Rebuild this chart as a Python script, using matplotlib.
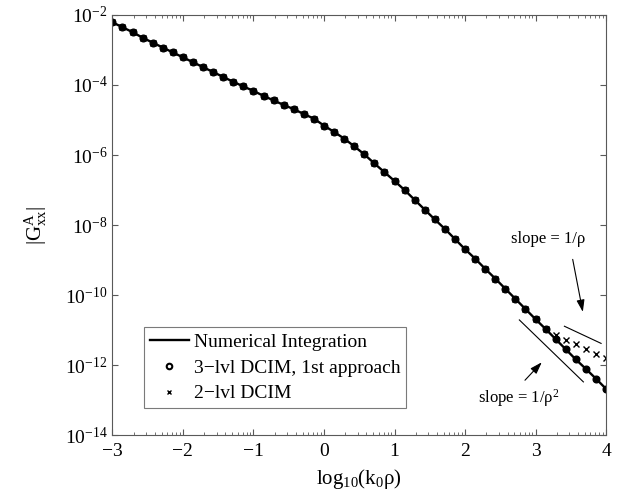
import numpy as np
import matplotlib
matplotlib.use('Agg')
import matplotlib.pyplot as plt
from matplotlib.lines import Line2D
from matplotlib.ticker import FixedLocator, NullLocator, FuncFormatter

plt.rcParams['font.family'] = ['Liberation Serif', 'DejaVu Serif']
plt.rcParams['mathtext.fontset'] = 'custom'
plt.rcParams['mathtext.rm'] = 'Liberation Serif'
plt.rcParams['mathtext.it'] = 'Liberation Serif:italic'
plt.rcParams['mathtext.bf'] = 'Liberation Serif:bold'

# log10(k0*rho) sample points
x = np.linspace(-3, 4, 50)

# log10 |Gxx^A| (numerical integration / 3-lvl DCIM)
gxx_log = [-2.21, -2.35, -2.49, -2.65, -2.79, -2.93, -3.07, -3.21, -3.35, -3.49,
           -3.63, -3.77, -3.91, -4.04, -4.17, -4.31, -4.44, -4.57, -4.69, -4.83,
           -4.96, -5.16, -5.34, -5.53, -5.75, -5.98, -6.24, -6.49, -6.74, -7.00,
           -7.28, -7.56, -7.84, -8.11, -8.40, -8.69, -8.96, -9.25, -9.53, -9.82,
           -10.11, -10.40, -10.69, -10.97, -11.26, -11.55, -11.84, -12.11, -12.39, -12.68]

# 2-lvl DCIM: same as above, then drifts off at large distance
dcim2_tail = [-11.13, -11.29, -11.41, -11.54, -11.67, -11.79]
dcim2_log = gxx_log[:44] + dcim2_tail

gxx = 10.0 ** np.array(gxx_log)
dcim2 = 10.0 ** np.array(dcim2_log)

labels = ['Numerical Integration', '3\u2212lvl DCIM, 1st approach', '2\u2212lvl DCIM']

fig = plt.figure(figsize=(6.21, 4.99), dpi=100)
ax = fig.add_axes([0.181, 0.128, 0.795, 0.842])

ax.plot(x, gxx, 'k-', lw=1.7)
ax.plot(x, gxx, 'o', color='k', ms=4.8, mfc='k', mew=1.0)
ax.plot(x, dcim2, 'x', color='k', ms=4, mew=1.0)

ax.set_yscale('log')
ax.set_xlim(-3, 4)
ax.set_ylim(1e-14, 1e-2)

# slope guide lines
ax.plot([2.770, 3.678], [10**-10.71, 10**-12.48], 'k-', lw=0.8)
ax.plot([3.409, 3.929], [10**-10.89, 10**-11.38], 'k-', lw=0.8)

arrow = '-|>,head_length=0.6,head_width=0.2'
ax.annotate('slope = 1/ρ$^2$', xy=(3.088, 10**-11.92), xytext=(2.759, 10**-12.94),
            ha='center', va='center', fontsize=12,
            arrowprops=dict(arrowstyle=arrow, color='k', lw=0.8, mutation_scale=12,
                            shrinkA=4, shrinkB=0, relpos=(0.5, 1.0)))
ax.annotate('slope = 1/ρ', xy=(3.67, 10**-10.48), xytext=(3.177, 10**-8.40),
            ha='center', va='center', fontsize=12,
            arrowprops=dict(arrowstyle=arrow, color='k', lw=0.8, mutation_scale=12,
                            shrinkA=7, shrinkB=0, relpos=(0.8, 0.0)))

# ticks
ax.xaxis.set_major_locator(FixedLocator(np.arange(-3, 5)))
minors = [i + np.log10(k) for i in range(-3, 4) for k in range(2, 10)]
ax.xaxis.set_minor_locator(FixedLocator(minors))
ax.yaxis.set_major_locator(FixedLocator([10.0**e for e in range(-14, -1, 2)]))
ax.yaxis.set_minor_locator(NullLocator())
ax.yaxis.set_major_formatter(FuncFormatter(lambda v, p: r'10$^{%d}$' % round(np.log10(v))))
ax.tick_params(which='both', direction='in', top=True, right=True, labelsize=14,
               color='0.35')
ax.tick_params(which='major', length=4)
ax.tick_params(which='minor', length=2.5)
ax.tick_params(axis='x', pad=6)
for s in ax.spines.values():
    s.set_color('0.35')
    s.set_linewidth(0.8)

ax.set_xlabel(r'log$_{10}$(k$_0$ρ)', fontsize=15, labelpad=5)
ax.set_ylabel(r'$|\mathrm{G}^{\mathrm{A}}_{\mathrm{xx}}|$', fontsize=15, labelpad=11)

handles = [Line2D([], [], color='k', lw=1.7),
           Line2D([], [], ls='none', marker='o', color='k', ms=4, mfc='none', mew=1.5),
           Line2D([], [], ls='none', marker='x', color='k', ms=3.5, mew=1.0)]
leg = ax.legend(handles, labels, loc='lower left', bbox_to_anchor=(0.064, 0.064),
                fontsize=14, frameon=True, fancybox=False, borderaxespad=0,
                handlelength=2.0, handletextpad=0.25, labelspacing=0.42, borderpad=0.3)
leg.get_frame().set_edgecolor('0.35')
leg.get_frame().set_linewidth(0.8)

fig.savefig('out.png', dpi=100)
